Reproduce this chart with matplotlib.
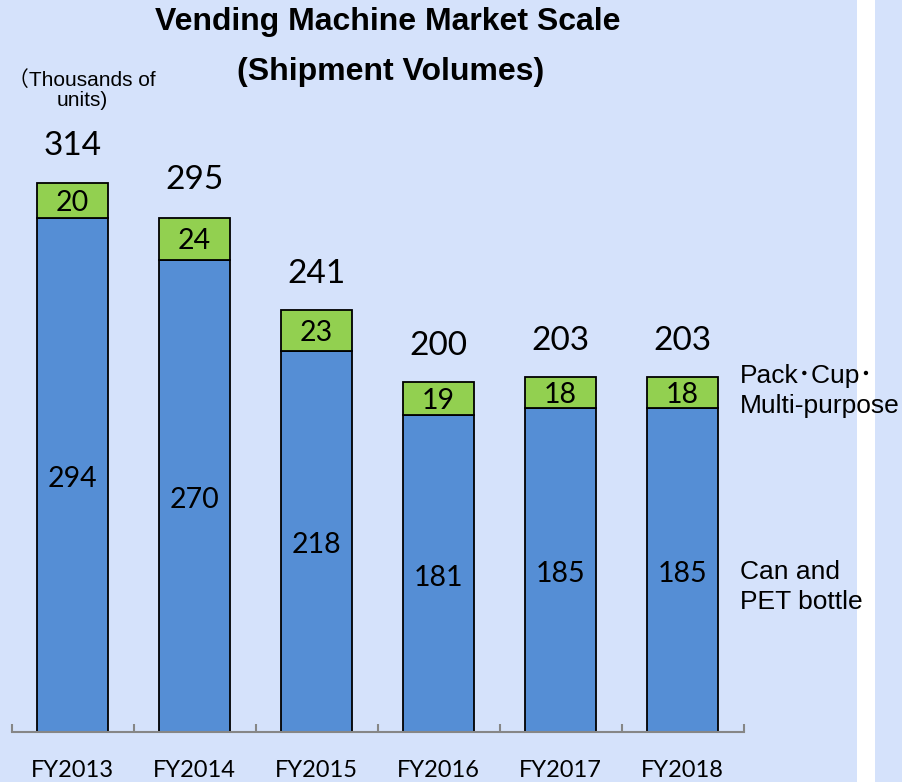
import matplotlib.pyplot as plt
from matplotlib.patches import Rectangle

years = ["FY2013", "FY2014", "FY2015", "FY2016", "FY2017", "FY2018"]
can_pet = [294, 270, 218, 181, 185, 185]
pack_cup = [20, 24, 23, 19, 18, 18]
totals = [314, 295, 241, 200, 203, 203]

BLUE = "#558ed5"
GREEN = "#92d050"
BG = "#d5e2fb"
NUM_FONT = "Lato"
LABEL_FONT = ["Liberation Sans", "Noto Sans CJK JP"]

W, H = 902, 782
fig = plt.figure(figsize=(W / 100, H / 100), dpi=100, facecolor=BG)
fig.patches.append(Rectangle((857 / W, 0), 18 / W, 1, transform=fig.transFigure,
                             facecolor="white", edgecolor="none", zorder=-1))

ax = fig.add_axes([11.5 / W, 50 / H, 732 / W, 732 / H])
ax.set_facecolor("none")

x = range(len(years))
ax.bar(x, can_pet, width=0.58, color=BLUE, edgecolor="black", linewidth=1.3)
ax.bar(x, pack_cup, bottom=can_pet, width=0.58, color=GREEN,
       edgecolor="black", linewidth=1.3)

for i in x:
    ax.annotate(str(can_pet[i]), (i, can_pet[i] / 2), xytext=(0, -3),
                textcoords="offset points", ha="center", va="center",
                fontsize=20.5, fontname=NUM_FONT)
    ax.annotate(str(pack_cup[i]), (i, can_pet[i] + pack_cup[i] / 2),
                xytext=(0, -2), textcoords="offset points", ha="center",
                va="center", fontsize=20.5, fontname=NUM_FONT)
    ax.annotate(str(totals[i]), (i, totals[i]), xytext=(0, 26),
                textcoords="offset points", ha="center", va="center",
                fontsize=24, fontname=NUM_FONT)

ax.set_xlim(-0.5, len(years) - 0.5)
ax.set_ylim(0, 732 / 1.75)
for side in ["left", "right", "top"]:
    ax.spines[side].set_visible(False)
ax.spines["bottom"].set_color("#868686")
ax.spines["bottom"].set_linewidth(1.5)
ax.set_yticks([])
ax.set_xticks(list(x))
ax.set_xticklabels(years, fontsize=17, fontname=NUM_FONT)
ax.tick_params(axis="x", which="major", length=0, pad=20)
ax.set_xticks([i - 0.5 for i in range(len(years) + 1)], minor=True)
ax.tick_params(axis="x", which="minor", direction="in", length=6,
               width=1.5, color="#868686")

fig.text(388 / W, 1 - 22 / H, "Vending Machine Market Scale", ha="center",
         va="center", fontsize=23, fontweight="bold", family=LABEL_FONT)
fig.text(391 / W, 1 - 72 / H, "(Shipment Volumes)", ha="center",
         va="center", fontsize=23, fontweight="bold", family=LABEL_FONT)
fig.text(82 / W, 1 - 90 / H, "（Thousands of\nunits)", ha="center",
         va="center", fontsize=15, family=LABEL_FONT, linespacing=1.12)
fig.text(740 / W, 1 - 391 / H, "Pack･Cup･\nMulti-purpose", ha="left",
         va="center", fontsize=19, family=LABEL_FONT, linespacing=1.32)
fig.text(740 / W, 1 - 587 / H, "Can and\nPET bottle", ha="left",
         va="center", fontsize=19, family=LABEL_FONT, linespacing=1.32)

fig.savefig("out.png", dpi=100, facecolor=BG)
